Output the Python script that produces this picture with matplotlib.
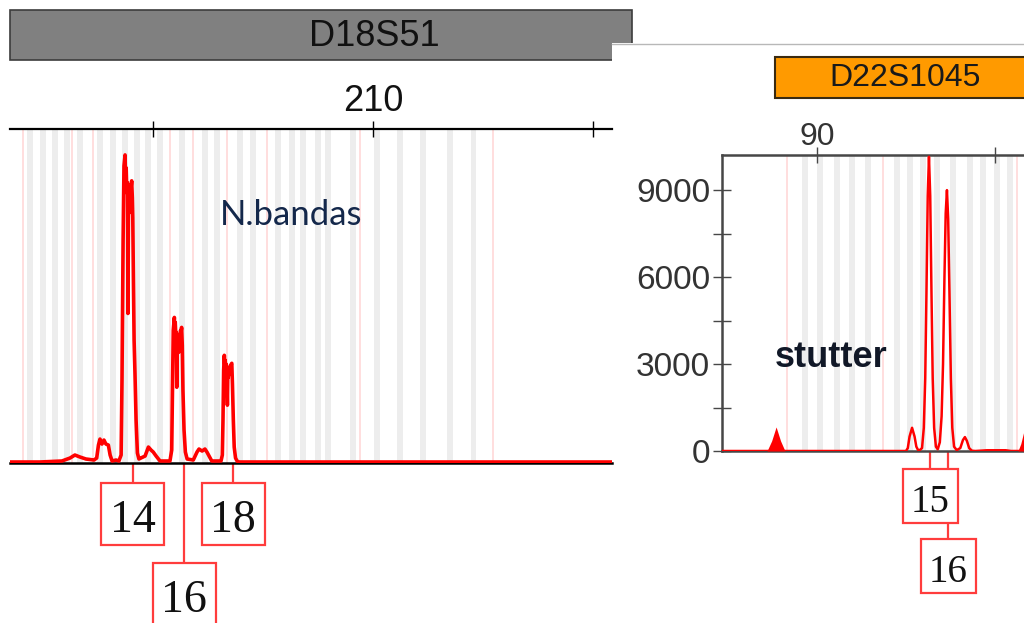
import matplotlib
matplotlib.use('Agg')
import matplotlib.pyplot as plt
from matplotlib.patches import Rectangle

plt.rcParams['font.family'] = ['Liberation Sans', 'DejaVu Sans']

W, H = 1024, 623

# ---------------- data ----------------
left_locus = 'D18S51'
right_locus = 'D22S1045'

# D18S51 trace (bp, RFU)
left_trace_bp = [193.5, 194.86, 195.86, 196.23, 196.45, 196.68, 196.95, 197.32, 197.44, 197.52,
                 197.59, 197.68, 197.77, 197.86, 197.97, 198.05, 198.14, 198.32,
                 # allele 14
                 198.45, 198.55, 198.59, 198.64, 198.68, 198.73, 198.75, 198.78, 198.81, 198.84,
                 198.86, 198.89, 198.92, 198.95, 198.97, 199.0, 199.03, 199.06, 199.08, 199.11,
                 199.14, 199.18, 199.23, 199.29, 199.36,
                 199.45, 199.64, 199.79, 199.91, 200.01, 200.14, 200.32, 200.55,
                 # allele 16
                 200.77, 200.85, 200.89, 200.92, 200.97, 200.99, 201.01, 201.04, 201.06, 201.08,
                 201.10, 201.13, 201.15, 201.17, 201.20, 201.22, 201.25, 201.27, 201.30, 201.33,
                 201.36, 201.41, 201.47, 201.55,
                 201.83, 202.0, 202.09, 202.23, 202.36, 202.45, 202.67, 202.86,
                 # allele 18
                 203.09, 203.15, 203.18, 203.21, 203.24, 203.26, 203.28, 203.30, 203.33, 203.35,
                 203.38, 203.40, 203.42, 203.45, 203.47, 203.50, 203.53, 203.55, 203.58, 203.61,
                 203.65, 203.69, 203.75, 203.82, 203.88, 220.86]
left_trace_rfu = [0, 0, 10, 40, 70, 50, 30, 20, 40, 170,
                  230, 180, 220, 180, 170, 70, 10, 20,
                  10, 70, 820, 2220, 2970, 3080, 2850, 2950, 2700, 2800,
                  1490, 2700, 2500, 2700, 2550, 2750, 2820, 2650, 2450, 1800,
                  1220, 890, 420, 90, 30,
                  40, 60, 150, 120, 100, 60, 10, 10,
                  10, 120, 820, 1320, 1450, 1300, 1400, 1250, 1300, 750,
                  1200, 1150, 1250, 1100, 1280, 1200, 1320, 1300, 1350, 1170,
                  720, 320, 100, 30,
                  20, 100, 130, 110, 130, 100, 10, 10,
                  10, 70, 420, 920, 1070, 980, 1020, 930, 980, 900,
                  570, 900, 850, 940, 880, 960, 920, 980, 990, 780,
                  420, 150, 40, 10, 0, 0]
left_allele_names = ['14', '16', '18']
left_allele_bp = [199.09, 201.41, 203.64]
left_ruler_ticks = [200, 210, 220]
left_ruler_labels = ['', '210', '']
left_gray_bins = [194.41, 195.0, 195.55, 196.09, 196.68, 197.59, 198.18, 198.73, 199.27,
                  199.77, 200.32, 201.32, 202.36, 202.91, 203.95, 204.55, 205.68, 206.32,
                  206.82, 207.5, 207.95, 209.09, 210.18, 211.23, 212.27, 213.5, 214.55]
left_pink_bins = [194.09, 196.32, 197.27, 200.77, 201.82, 203.36, 205.18, 209.41, 215.45]

# D22S1045 trace (bp, RFU)
right_trace_bp = [84.66, 95.0, 95.10, 95.20, 95.34, 95.48, 95.58, 95.68, 95.75, 95.90,
                  96.00, 96.08, 96.15, 96.22, 96.29, 96.36, 96.43, 96.50, 96.58, 96.68,
                  96.78, 96.90, 97.00, 97.08, 97.16, 97.23, 97.30, 97.37, 97.44, 97.52,
                  97.60, 97.70, 97.85, 98.05, 98.20, 98.31, 98.42, 98.55, 98.70, 98.90,
                  99.55, 100.60, 100.90, 101.63]
right_trace_rfu = [0, 0, 100, 500, 800, 500, 150, 30, 20, 100,
                   800, 2500, 5500, 8800, 10150, 8800, 5500, 2500, 800, 150,
                   60, 300, 1200, 3000, 6000, 8200, 9000, 8000, 5500, 2500,
                   800, 150, 30, 100, 380, 480, 350, 100, 10, 0,
                   25, 25, 0, 0]
right_fill_a_bp = [87.19, 87.45, 87.70, 87.95, 88.20]
right_fill_a_rfu = [0, 350, 830, 350, 0]
right_fill_b_bp = [101.29, 101.45, 101.63]
right_fill_b_rfu = [0, 250, 700]
right_allele_names = ['15', '16']
right_allele_bp = [96.35, 97.36]
right_yticks = [0, 3000, 6000, 9000]
right_yminor = [1500, 4500, 7500]
right_xticks = [90, 100]
right_xlabels = ['90', '']
right_gray_bins = [89.33, 90.17, 91.12, 91.97, 92.87, 94.49, 95.22, 95.96, 96.74, 97.64,
                   98.60, 99.33, 100.11, 100.84]
right_pink_bins = [88.31, 93.71, 101.24]

# ---------------- style ----------------
RED = '#ff0000'
BOX_RED = '#ff3c3c'
GRAY_STRIPE = '#ededed'
PINK_STRIPE = '#ffdede'

fig = plt.figure(figsize=(W / 100, H / 100), dpi=100)
fig.patch.set_facecolor('white')


def px_axes(x0, y0, x1, y1, z=1):
    return fig.add_axes([x0 / W, 1 - y1 / H, (x1 - x0) / W, (y1 - y0) / H], zorder=z)


# background canvas in pixel coordinates
ax_bg = px_axes(0, 0, W, H, z=0)
ax_bg.set_xlim(0, W)
ax_bg.set_ylim(H, 0)
ax_bg.axis('off')

# left header bar
ax_bg.add_patch(Rectangle((10, 10), 622, 50, fc='#808080', ec='#3c3c3c', lw=1.2, zorder=1))
ax_bg.text(374, 36, left_locus, ha='center', va='center', fontsize=26, color='#111111', zorder=2)

# right panel background
ax_bg.add_patch(Rectangle((612, 43), 420, 600, fc='white', ec='none', zorder=3))
ax_bg.plot([612, 1024], [43.5, 43.5], color='#b8b8b8', lw=1.0, zorder=3)
ax_bg.add_patch(Rectangle((775, 57), 270, 41, fc='#ff9a00', ec='#3a2a10', lw=1.5, zorder=4))
ax_bg.text(905, 78, right_locus, ha='center', va='center', fontsize=23, color='#1a1a1a', zorder=5)

# ---------------- left electropherogram ----------------
axL = px_axes(10, 128.5, 612, 463, z=2)
axL.set_xlim(193.5, 220.86)
axL.set_ylim(-10, 3345)
axL.set_facecolor('white')
for b in left_gray_bins:
    axL.axvspan(b - 0.12, b + 0.12, color=GRAY_STRIPE, lw=0, zorder=0)
for b in left_pink_bins:
    axL.axvspan(b - 0.06, b + 0.06, color=PINK_STRIPE, lw=0, zorder=0)
axL.plot(left_trace_bp, left_trace_rfu, color=RED, lw=2.6, zorder=3,
         solid_joinstyle='round', solid_capstyle='round')
for s in ['left', 'right']:
    axL.spines[s].set_visible(False)
axL.spines['top'].set_color('black')
axL.spines['top'].set_linewidth(1.6)
axL.spines['bottom'].set_color('black')
axL.spines['bottom'].set_linewidth(1.8)
axL.set_yticks([])
axL.set_xticks(left_ruler_ticks, left_ruler_labels)
axL.tick_params(axis='x', top=True, bottom=False, labeltop=True, labelbottom=False,
                direction='inout', length=12, width=1.0, pad=0.5, labelsize=26,
                labelcolor='#111111', color='black')
axL.text(0.349, 0.712, 'N.bandas', transform=axL.transAxes, fontsize=25,
         family=['Lato', 'DejaVu Sans'], color='#14284b', ha='left', va='baseline')

# ---------------- right electropherogram ----------------
axR = px_axes(722, 155, 1024, 451, z=2)
axR.set_xlim(84.66, 101.63)
axR.set_ylim(0, 10212)
axR.set_facecolor('white')
for b in right_gray_bins:
    axR.axvspan(b - 0.17, b + 0.17, color=GRAY_STRIPE, lw=0, zorder=0)
for b in right_pink_bins:
    axR.axvspan(b - 0.07, b + 0.07, color=PINK_STRIPE, lw=0, zorder=0)
axR.fill_between(right_fill_a_bp, right_fill_a_rfu, 0, color=RED, lw=0, zorder=3)
axR.fill_between(right_fill_b_bp, right_fill_b_rfu, 0, color=RED, lw=0, zorder=3)
axR.plot(right_trace_bp, right_trace_rfu, color=RED, lw=1.8, zorder=3)
axR.spines['right'].set_visible(False)
for s in ['left', 'top', 'bottom']:
    axR.spines[s].set_color('#474747')
    axR.spines[s].set_linewidth(1.8)
axR.set_yticks(right_yticks)
axR.set_yticks(right_yminor, minor=True)
axR.tick_params(axis='y', which='both', direction='inout', length=13, width=1.0,
                color='#474747', labelsize=24, labelcolor='#333333', pad=2)
axR.set_xticks(right_xticks, right_xlabels)
axR.tick_params(axis='x', top=True, bottom=False, labeltop=True, labelbottom=False,
                direction='inout', length=12, width=1.0, color='#474747', pad=-4,
                labelsize=23, labelcolor='#333333')
axR.text(0.175, 0.285, 'stutter', transform=axR.transAxes, fontsize=26,
         fontweight='bold', color='#111827', ha='left', va='baseline')

# ---------------- allele labels ----------------
def data_to_px(ax, x, y):
    dx, dy = ax.transData.transform((x, y))
    return dx, H - dy


def allele_box(cx, top, w, h, label, fs):
    ax_bg.add_patch(Rectangle((cx - w / 2, top), w, h, fc='white', ec=BOX_RED, lw=1.6, zorder=6))
    ax_bg.text(cx, top + h / 2 + 2, label, ha='center', va='center_baseline', fontsize=fs,
               family=['Liberation Serif', 'DejaVu Serif'], color='#111111', zorder=7)


left_rows = [483, 563, 483]
for name, bp, top in zip(left_allele_names, left_allele_bp, left_rows):
    cx, base = data_to_px(axL, bp, 0)
    ax_bg.plot([cx, cx], [463, top], color=BOX_RED, lw=1.6, zorder=5)
    allele_box(cx, top, 63, 62, name, 33)

right_rows = [469, 539]
for name, bp, top in zip(right_allele_names, right_allele_bp, right_rows):
    cx, base = data_to_px(axR, bp, 0)
    ax_bg.plot([cx, cx], [451, top], color=BOX_RED, lw=1.6, zorder=5)
    allele_box(cx, top, 55, 54, name, 28)

fig.savefig('out.png', dpi=100)
